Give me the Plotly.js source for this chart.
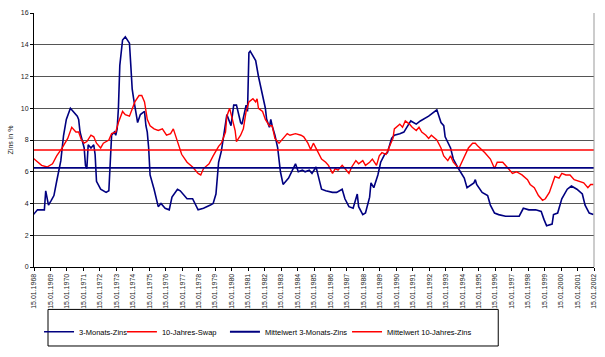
<!DOCTYPE html>
<html>
<head>
<meta charset="utf-8">
<script src="https://cdn.plot.ly/plotly-3.0.1.min.js"></script>
<style>html,body{margin:0;padding:0;background:#fff;}#chart{width:605px;height:357px;}</style>
</head>
<body>
<div id="chart"></div>
<script>
const dates3M = ["1968-01","1968-04","1968-07","1968-09","1968-10","1968-12","1969-02","1969-04","1969-06","1969-09","1969-11","1970-01","1970-04","1970-06","1970-09","1970-10","1970-11","1971-02","1971-03","1971-04","1971-05","1971-07","1971-09","1971-10","1971-11","1972-02","1972-06","1972-08","1972-09","1972-10","1972-12","1973-01","1973-02","1973-03","1973-04","1973-06","1973-08","1973-11","1973-12","1974-01","1974-02","1974-05","1974-07","1974-10","1974-11","1974-12","1975-01","1975-02","1975-05","1975-07","1975-08","1975-10","1976-01","1976-04","1976-06","1976-10","1976-12","1977-05","1977-09","1978-01","1978-05","1978-10","1978-12","1979-02","1979-04","1979-06","1979-09","1979-10","1980-01","1980-03","1980-05","1980-08","1980-09","1980-12","1981-01","1981-02","1981-03","1981-05","1981-07","1981-09","1981-12","1982-02","1982-03","1982-05","1982-06","1982-07","1982-09","1982-11","1983-01","1983-03","1983-07","1983-10","1983-12","1984-02","1984-05","1984-07","1984-10","1984-12","1985-03","1985-05","1985-07","1985-10","1986-03","1986-06","1986-10","1986-12","1987-03","1987-06","1987-09","1987-10","1988-01","1988-03","1988-06","1988-07","1988-09","1988-12","1989-02","1989-05","1989-07","1989-10","1989-12","1990-04","1990-07","1990-12","1991-04","1991-07","1992-01","1992-07","1992-08","1992-10","1992-12","1993-01","1993-05","1993-07","1993-10","1993-12","1994-03","1994-05","1994-07","1994-10","1994-11","1994-12","1995-04","1995-08","1995-10","1996-01","1996-04","1996-09","1997-02","1997-07","1997-10","1998-02","1998-07","1998-11","1999-01","1999-03","1999-07","1999-08","1999-11","2000-02","2000-06","2000-09","2001-01","2001-05","2001-07","2001-10","2002-01"];
const zins3M = [3.3,3.6,3.6,3.6,4.8,3.9,4.2,4.5,5.4,6.7,8.3,9.3,10.0,9.8,9.5,9.3,8.5,7.5,6.4,6.2,7.7,7.5,7.7,7.1,5.4,4.9,4.7,4.8,6.2,8.3,8.5,8.3,8.7,10.0,12.7,14.3,14.5,14.1,12.7,11.2,10.6,9.1,9.6,9.8,8.9,8.5,7.5,5.8,4.9,4.2,3.8,4.0,3.7,3.6,4.4,4.9,4.8,4.3,4.3,3.6,3.7,3.9,4.0,4.6,6.6,7.3,8.9,9.6,8.9,10.2,10.2,9.1,9.0,10.2,9.8,13.5,13.6,13.3,13.0,12.0,10.8,10.0,9.3,8.8,9.3,8.9,8.3,7.5,6.0,5.2,5.6,6.2,6.5,6.0,6.1,6.0,6.1,5.9,6.3,5.6,4.9,4.8,4.7,4.7,4.9,4.3,3.8,3.7,4.6,3.8,3.3,3.4,4.4,5.3,5.0,5.8,6.6,7.1,7.2,8.1,8.3,8.4,8.5,9.2,9.0,9.2,9.5,9.9,9.6,9.1,8.9,8.2,7.5,6.8,6.3,6.0,5.6,5.0,5.1,5.3,5.5,5.2,4.7,4.5,3.9,3.4,3.3,3.2,3.2,3.2,3.7,3.6,3.6,3.5,3.0,2.6,2.7,3.3,3.4,4.3,4.9,5.1,4.9,4.6,3.9,3.4,3.3];

const datesSwap = ["1968-01","1968-07","1968-11","1969-03","1969-06","1969-10","1970-02","1970-04","1970-05","1970-08","1970-10","1970-12","1971-02","1971-04","1971-07","1971-09","1971-11","1972-02","1972-04","1972-08","1972-10","1973-01","1973-03","1973-06","1973-08","1973-11","1974-01","1974-03","1974-06","1974-08","1974-10","1974-12","1975-02","1975-05","1975-08","1975-11","1976-02","1976-05","1976-07","1976-10","1977-01","1977-05","1977-09","1978-01","1978-03","1978-05","1978-09","1978-12","1979-04","1979-06","1979-09","1979-10","1979-12","1980-02","1980-04","1980-05","1980-08","1980-10","1980-12","1981-02","1981-05","1981-07","1981-08","1981-09","1981-12","1982-02","1982-05","1982-07","1982-08","1982-09","1982-12","1983-02","1983-06","1983-08","1983-12","1984-04","1984-06","1984-09","1984-11","1985-01","1985-04","1985-07","1985-10","1985-12","1986-03","1986-05","1986-07","1986-10","1986-12","1987-03","1987-05","1987-08","1987-10","1988-01","1988-03","1988-06","1988-08","1988-11","1989-01","1989-03","1989-06","1989-08","1989-11","1989-12","1990-04","1990-06","1990-08","1990-11","1991-01","1991-04","1991-06","1991-08","1991-11","1992-01","1992-03","1992-07","1992-10","1992-12","1993-03","1993-05","1993-07","1993-11","1994-03","1994-06","1994-09","1994-11","1995-01","1995-06","1995-10","1996-01","1996-03","1996-07","1996-11","1997-02","1997-05","1997-09","1998-01","1998-03","1998-06","1998-09","1998-12","1999-02","1999-05","1999-07","1999-09","1999-12","2000-02","2000-05","2000-08","2000-11","2001-03","2001-06","2001-09","2001-11","2002-01"];
const swap10 = [6.85,6.4,6.3,6.5,7.0,7.5,8.1,8.6,8.8,8.5,8.5,8.0,7.8,7.9,8.3,8.2,7.8,7.5,7.8,8.0,8.4,8.5,9.1,9.8,9.6,9.5,10.0,10.4,10.8,10.8,10.4,9.3,8.9,8.7,8.6,8.7,8.3,8.4,8.7,7.9,7.1,6.6,6.3,5.9,5.8,6.2,6.5,7.0,7.6,7.8,8.5,9.5,10.0,9.3,8.6,7.9,8.3,8.7,9.8,10.4,10.6,10.4,10.6,10.0,9.8,9.3,8.9,8.9,8.4,8.1,7.8,8.0,8.4,8.3,8.4,8.3,8.2,7.8,7.4,7.8,7.3,6.8,6.6,6.4,5.9,6.2,6.1,6.4,6.2,5.9,6.3,6.7,6.5,6.7,6.4,6.6,6.8,6.4,7.0,7.2,7.1,7.5,8.1,8.7,9.0,8.8,9.2,9.0,8.8,8.6,8.8,8.5,8.3,8.1,8.3,8.0,7.5,7.0,6.7,7.0,6.6,6.2,6.9,7.5,7.8,7.8,7.6,7.2,6.8,6.2,6.6,6.6,6.2,5.9,6.0,5.8,5.5,5.2,5.0,4.5,4.2,4.3,4.7,5.2,5.7,5.6,5.9,5.8,5.8,5.5,5.4,5.3,5.0,5.2,5.2];

const meanDates = ["1968-01-15","2002-01-15"];
const mean3M = [6.24, 6.24];
const mean10 = [7.37, 7.37];

const seriesNames = ["3-Monats-Zins","10-Jahres-Swap","Mittelwert 3-Monats-Zins","Mittelwert 10-Jahres-Zins"];

const tickVals = ["1968-01-15","1969-01-15","1970-01-15","1971-01-15","1972-01-15","1973-01-15","1974-01-15","1975-01-15","1976-01-15","1977-01-15","1978-01-15","1979-01-15","1980-01-15","1981-01-15","1982-01-15","1983-01-15","1984-01-15","1985-01-15","1986-01-15","1987-01-15","1988-01-15","1989-01-15","1990-01-15","1991-01-15","1992-01-15","1993-01-15","1994-01-15","1995-01-15","1996-01-15","1997-01-15","1998-01-15","1999-01-15","2000-01-15","2001-01-15","2002-01-15"];
const tickText = ["15.01.1968","15.01.1969","15.01.1970","15.01.1971","15.01.1972","15.01.1973","15.01.1974","15.01.1975","15.01.1976","15.01.1977","15.01.1978","15.01.1979","15.01.1980","15.01.1981","15.01.1982","15.01.1983","15.01.1984","15.01.1985","15.01.1986","15.01.1987","15.01.1988","15.01.1989","15.01.1990","15.01.1991","15.01.1992","15.01.1993","15.01.1994","15.01.1995","15.01.1996","15.01.1997","15.01.1998","15.01.1999","15.01.2000","15.01.2001","15.01.2002"];

const NAVY = "#000080", RED = "#ff0000";
const FONT = "Liberation Sans, Arial, sans-serif";

const traces = [
  {x: dates3M, y: zins3M, name: seriesNames[0], mode: "lines", line: {color: NAVY, width: 1.6}, legend: "legend"},
  {x: datesSwap, y: swap10, name: seriesNames[1], mode: "lines", line: {color: RED, width: 1.4}, legend: "legend2"},
  {x: meanDates, y: mean3M, name: seriesNames[2], mode: "lines", line: {color: NAVY, width: 1.8}, legend: "legend3"},
  {x: meanDates, y: mean10, name: seriesNames[3], mode: "lines", line: {color: RED, width: 1.6}, legend: "legend4"}
];

function lg(xp) {
  return {x: xp, xanchor: "left", y: -0.255, yanchor: "middle", orientation: "h",
    bgcolor: "rgba(0,0,0,0)", borderwidth: 0, font: {family: FONT, size: 7.5, color: "#000"}};
}
// plot area: x 34..594 (560 px), y 13..270 (257 px)
const layout = {
  width: 605, height: 357,
  margin: {l: 34, r: 11, t: 13, b: 87},
  paper_bgcolor: "#fff", plot_bgcolor: "#fff",
  showlegend: true,
  font: {family: FONT, size: 7, color: "#000"},
  xaxis: {
    type: "date", range: ["1968-01-15","2002-01-15"],
    tickmode: "array", tickvals: tickVals, ticktext: tickText, tickangle: -90,
    ticks: "outside", ticklen: 3, tickcolor: "#000",
    showgrid: false, showline: true, linecolor: "#000", linewidth: 1,
    zeroline: false, tickfont: {family: FONT, size: 7, color: "#222"}
  },
  yaxis: {
    range: [0, 16], dtick: 2, tick0: 0,
    ticks: "outside", ticklen: 3, tickcolor: "#000",
    showgrid: true, gridcolor: "#555", gridwidth: 1,
    showline: true, linecolor: "#000", linewidth: 1, zeroline: false,
    tickfont: {family: FONT, size: 7, color: "#222"},
    title: {text: "Zins in %", font: {family: FONT, size: 7, color: "#222"}, standoff: 6}
  },
  legend: lg(0.009),
  legend2: lg(0.157),
  legend3: lg(0.341),
  legend4: lg(0.559),
  shapes: [
    {type: "line", xref: "paper", yref: "paper", x0: 1, x1: 1, y0: 0, y1: 1, line: {color: "#999", width: 1}},
    {type: "rect", xref: "paper", yref: "paper", x0: 0.025, x1: 0.829, y0: -0.167, y1: -0.311, line: {color: "#000", width: 1}, fillcolor: "rgba(0,0,0,0)"}
  ]
};

Plotly.newPlot("chart", traces, layout, {staticPlot: true, displayModeBar: false});
</script>
</body>
</html>
